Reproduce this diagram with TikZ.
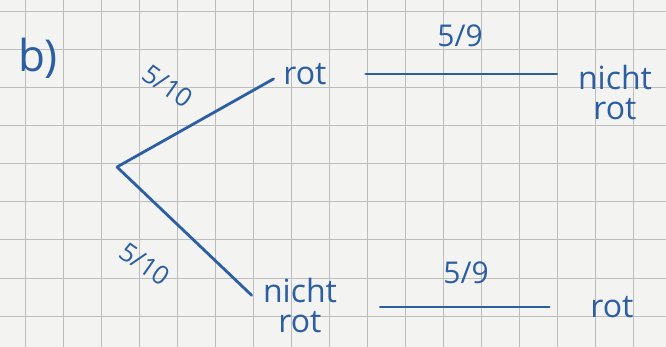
\documentclass[tikz,border=0pt]{standalone}
\usepackage{fontspec}
\setmainfont{Open Sans}
\usetikzlibrary{positioning}
\definecolor{InkBlue}{HTML}{2C5EA3}
\definecolor{PaperWhite}{HTML}{F3F3F1}
\definecolor{GridGrey}{HTML}{BDBDBD}
\tikzset{
  ink/.style={text=InkBlue,font=\fontsize{32}{30}\selectfont,inner sep=1pt},
  stacked/.style={ink,align=center},
  prob/.style={text=InkBlue,font=\fontsize{26}{26}\selectfont,inner sep=1pt},
  branch/.style={draw=InkBlue,line width=2.8pt,line cap=round},
  gridline/.style={draw=GridGrey,line width=1pt}
}

\begin{document}
\begin{tikzpicture}[x=1pt,y=-1pt]
  \useasboundingbox[fill=PaperWhite] (0,0) rectangle (666,347);
  \foreach \gx in {25,63,...,670} \draw[gridline] (\gx,0) -- (\gx,347);
  \foreach \gy in {12,50,...,347} \draw[gridline] (0,\gy) -- (666,\gy);
  % first draw, then second draw
  \node[ink,font=\fontsize{44}{44}\selectfont] (part) at (38,58) {b)};
  \coordinate (root) at (117,167);
  \node[ink] (redA) at (305,74) {rot};
  \node[stacked] (notredA) at (615,93) {nicht\\rot};
  \node[stacked] (notredB) at (300,305) {nicht\\rot};
  \node[ink] (redB) at (612,307) {rot};
  \node[prob,rotate=-35] (probA) at (168,86) {5/10};
  \node[prob,rotate=-35] (probB) at (145,264) {5/10};
  \node[prob,font=\fontsize{30}{30}\selectfont] (probC) at (460,36) {5/9};
  \node[prob,font=\fontsize{30}{30}\selectfont] (probD) at (466,273) {5/9};
  \draw[branch,shorten >=10pt] (root) -- (redA.west);
  \draw[branch,shorten >=14pt] (root) -- (notredB.west);
  \draw[branch,shorten <=38pt,shorten >=20pt] (redA) -- (redA -| notredA.west);
  \draw[branch,shorten <=42pt,shorten >=40pt] (notredB.east |- redB) -- (redB.west);
\end{tikzpicture}
\end{document}
